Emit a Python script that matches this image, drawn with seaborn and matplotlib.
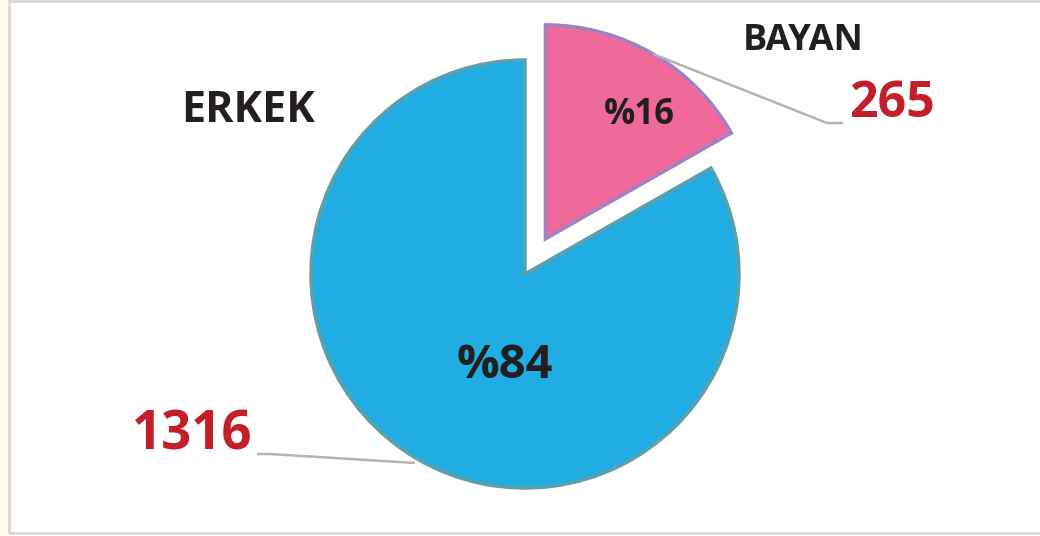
import matplotlib
matplotlib.use("Agg")
import matplotlib.pyplot as plt
import matplotlib.patches as mpatches
import seaborn as sns

# data
labels = ["ERKEK", "BAYAN"]
counts = [1316, 265]
percent_labels = ["%84", "%16"]
slice_colors = ["#1FADE3", "#EF6A9A"]
edge_colors = ["#5E9FA8", "#9C84C4"]

sns.set_theme(style="white")
plt.rcParams["font.family"] = ["Open Sans", "DejaVu Sans"]

H = 536
fig = plt.figure(figsize=(10.4, 5.36), dpi=100)
ax = fig.add_axes([0, 0, 1, 1])

# pie, pixel-like coordinates (y up)
cx, cy, r = 525, H - 274, 214
wedges, _ = ax.pie(counts, startangle=90, counterclock=True,
                   explode=[0, 0.19 * r], radius=r, center=(cx, cy),
                   colors=slice_colors,
                   wedgeprops=dict(linewidth=2.5))
for w, ec in zip(wedges, edge_colors):
    w.set_edgecolor(ec)

ax.set_xlim(0, 1040)
ax.set_ylim(0, H)
ax.set_aspect("equal")
ax.axis("off")

# frame and faint left strip
ax.add_patch(mpatches.Rectangle((0, 0), 8, H, color="#FEFBEC", zorder=0))
ax.add_patch(mpatches.Rectangle((9, H - 533), 1040, 532, fill=False,
                                edgecolor="#D9D9D9", linewidth=2, zorder=5))

dark = "#231F20"
red = "#C21F28"

# category names
ax.text(248, H - 111, labels[0], fontsize=31, fontweight="bold", color=dark,
        ha="center", va="center")
ax.text(803, H - 41, labels[1], fontsize=26, fontweight="bold", color=dark,
        ha="center", va="center")

# percentages inside slices
ax.text(505, H - 366, percent_labels[0], fontsize=34, fontweight="bold",
        color=dark, ha="center", va="center")
ax.text(639, H - 115, percent_labels[1], fontsize=25, fontweight="bold",
        color=dark, ha="center", va="center")

# counts with leader lines
ax.text(892, H - 104, str(counts[1]), fontsize=36, fontweight="bold",
        color=red, ha="center", va="center")
ax.text(192, H - 436, str(counts[0]), fontsize=38, fontweight="bold",
        color=red, ha="center", va="center")

ax.plot([653, 827, 843], [H - 54, H - 123, H - 123], color="#B4B4B4",
        linewidth=1.8, solid_capstyle="butt")
ax.plot([257, 270, 415], [H - 454, H - 454, H - 463], color="#B4B4B4",
        linewidth=1.8, solid_capstyle="butt")

fig.savefig("out.png", dpi=100)
